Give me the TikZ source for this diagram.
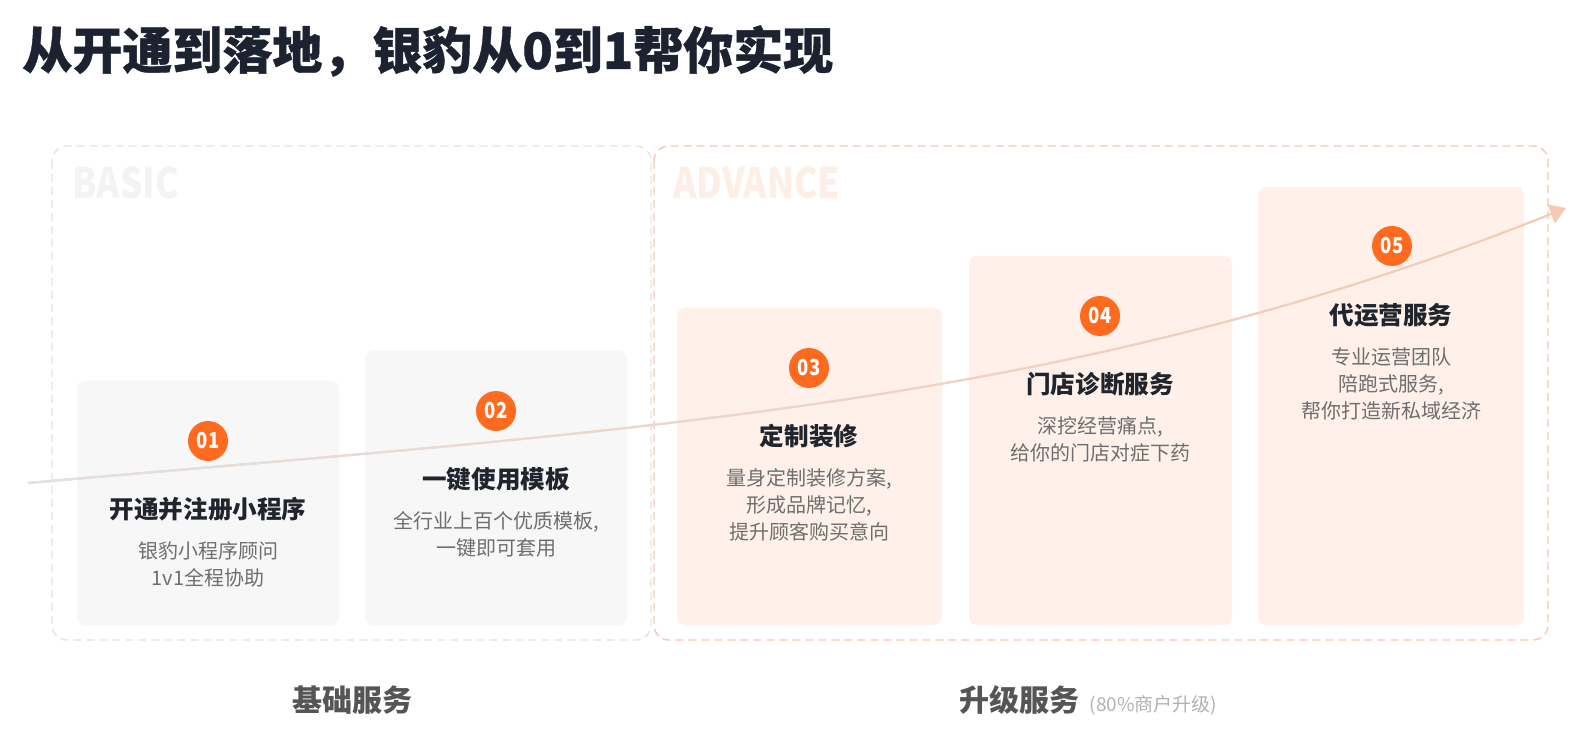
\documentclass[tikz,border=0pt]{standalone}
\usepackage{fontspec}
\setmainfont{Noto Sans CJK SC}
\newfontfamily\condfont[FakeStretch=0.84]{Noto Sans CJK SC}
\newfontfamily\headfont[BoldFeatures={FakeBold=0.8}]{Noto Sans CJK SC}
\usetikzlibrary{arrows.meta,positioning,fadings}
\definecolor{titleink}{HTML}{1C2230}
\definecolor{cardink}{HTML}{20242C}
\definecolor{descink}{HTML}{6E6E6E}
\definecolor{badgeorange}{HTML}{FF6A1F}
\definecolor{basicfill}{HTML}{F7F7F8}
\definecolor{advfill}{HTML}{FFF1EA}
\definecolor{basicdash}{HTML}{E4E4E4}
\definecolor{advdash}{HTML}{F6C7B5}
\definecolor{basicmark}{HTML}{F3F3F3}
\definecolor{advmark}{HTML}{FDEEE6}
\definecolor{curvegrey}{HTML}{E2E2E2}
\definecolor{curveorange}{HTML}{F8C9B3}
\definecolor{groupink}{HTML}{555555}
\definecolor{noteink}{HTML}{B2B2B2}
\tikzset{
  frame/.style={dash pattern=on 4pt off 2.5pt, line width=0.7pt, rounded corners=7.5pt},
  basiccard/.style={fill=basicfill, rounded corners=4pt},
  advcard/.style={fill=advfill, rounded corners=4pt},
  badge/.style={circle, fill=badgeorange, text=white, inner sep=0pt, minimum size=20pt,
    font=\condfont\fontsize{11}{11}\selectfont\bfseries},
  cardtitle/.style={text=cardink, inner sep=0pt, font=\fontsize{12.3}{14}\selectfont\bfseries},
  carddesc/.style={text=descink, inner sep=0pt, align=center, anchor=north,
    font=\fontsize{10}{13.5}\selectfont},
  levelmark/.style={inner sep=0pt, anchor=base west, font=\condfont\fontsize{21}{24}\selectfont\bfseries},
  grouplabel/.style={text=groupink, inner sep=0pt, font=\fontsize{15}{18}\selectfont\bfseries},
  trend/.style={line width=1.1pt, -{Triangle[length=8pt, width=10pt]}}
}
\begin{document}
\begin{tikzpicture}[x=0.5pt, y=-0.5pt]
\useasboundingbox (0,0) rectangle (1585,732);
\fill[white] (0,0) rectangle (1585,732);
% heading
\node[anchor=west, inner sep=0pt, text=titleink, font=\headfont\fontsize{25}{30}\selectfont\bfseries]
  (heading) at (22,51) {从开通到落地，银豹从0到1帮你实现};
% dashed groups
\draw[frame, basicdash] (52,146) rectangle (651,640);
\draw[frame, advdash] (654,146) rectangle (1548,640);
\node[levelmark, text=basicmark] (basicmark) at (72,199) {BASIC};
\node[levelmark, text=advmark] (advmark) at (673,199) {ADVANCE};
% cards
\fill[basiccard] (77,381) rectangle (339,625);
\fill[basiccard] (365,351) rectangle (627,625);
\fill[advcard] (677,308) rectangle (942,625);
\fill[advcard] (969,256) rectangle (1232,625);
\fill[advcard] (1258,187) rectangle (1524,625);
% trend arrow
\coordinate (start) at (28,483);
\coordinate (tip) at (1566,208);
\draw[trend, curveorange] (start) .. controls (628,430) and (1066,408) .. (tip);
\draw[trend, curvegrey, path fading=east] (start) .. controls (628,430) and (1066,408) .. (tip);
% step 1
\node[badge] (b1) at (208,441) {01};
\node[cardtitle] (t1) at (208,509) {开通并注册小程序};
\node[carddesc] (d1) at (208,541) {银豹小程序顾问\\1v1全程协助};
% step 2
\node[badge] (b2) at (496,411) {02};
\node[cardtitle] (t2) at (496,479) {一键使用模板};
\node[carddesc] (d2) at (496,511) {全行业上百个优质模板,\\一键即可套用};
% step 3
\node[badge] (b3) at (809,368) {03};
\node[cardtitle] (t3) at (809,436) {定制装修};
\node[carddesc] (d3) at (809,468) {量身定制装修方案,\\形成品牌记忆,\\提升顾客购买意向};
% step 4
\node[badge] (b4) at (1100,316) {04};
\node[cardtitle] (t4) at (1100,384) {门店诊断服务};
\node[carddesc] (d4) at (1100,416) {深挖经营痛点,\\给你的门店对症下药};
% step 5
\node[badge] (b5) at (1392,246) {05};
\node[cardtitle] (t5) at (1391,315) {代运营服务};
\node[carddesc] (d5) at (1391,347) {专业运营团队\\陪跑式服务,\\帮你打造新私域经济};
% group labels
\node[grouplabel] (basic) at (352,700) {基础服务};
\node[grouplabel] (upgrade) at (1019,700) {升级服务};
\node[base right=5pt of upgrade, inner sep=0pt, text=noteink, font=\fontsize{9.5}{12}\selectfont]
  (share) {(80\%商户升级)};
\end{tikzpicture}
\end{document}
